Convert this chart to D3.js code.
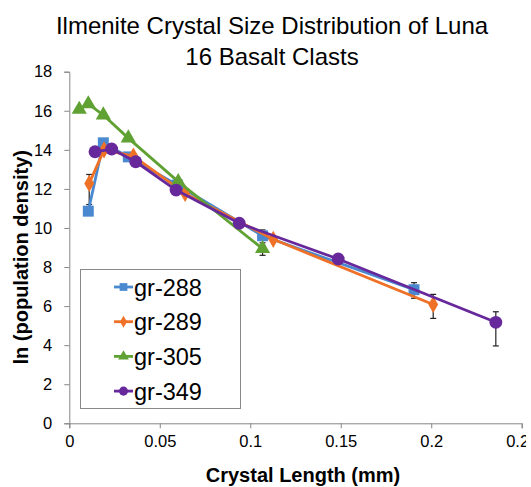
<!DOCTYPE html>
<html>
<head>
<meta charset="utf-8">
<script src="https://cdn.jsdelivr.net/npm/d3@7"></script>
<style>
  html, body { margin: 0; padding: 0; background: #fff; }
  svg { display: block; overflow: hidden; }
  text { font-family: "Liberation Sans", Arial, sans-serif; fill: #000; }
</style>
</head>
<body>
<svg id="chart" width="526" height="487"></svg>
<script>
// ---- data ----
const seriesNames = ["gr-288", "gr-289", "gr-305", "gr-349"];
const colors = ["#4A89D0", "#EE7127", "#5FA233", "#67289C"];
const symbols = ["square", "diamond", "triangle", "circle"];

const x288 = [0.0105, 0.0188, 0.0326, 0.0597, 0.1068, 0.1905];
const y288 = [10.86, 14.36, 13.64, 12.2, 9.6, 6.84];
const e288 = [null, null, null, null, [9.24, 9.9], [6.4, 7.2]];

const x289 = [0.011, 0.0192, 0.0354, 0.064, 0.1127, 0.2011];
const y289 = [12.28, 14.0, 13.68, 11.77, 9.42, 6.08];
const e289 = [[11.2, 12.74], null, null, null, null, [5.37, 6.6]];

const x305 = [0.0055, 0.0105, 0.0188, 0.0326, 0.0602, 0.1068];
const y305 = [16.07, 16.35, 15.78, 14.6, 12.37, 8.94];
const e305 = [null, null, null, null, null, [8.6, 9.1]];

const x349 = [0.0142, 0.0234, 0.0367, 0.059, 0.0939, 0.1486, 0.2357];
const y349 = [13.9, 14.04, 13.39, 11.94, 10.24, 8.41, 5.17];
const e349 = [null, null, null, null, null, null, [3.96, 5.71]];

const xTicks = [0, 0.05, 0.1, 0.15, 0.2, 0.25];
const yTicks = [0, 2, 4, 6, 8, 10, 12, 14, 16, 18];

const titleLines = ["Ilmenite Crystal Size Distribution of Luna", "16 Basalt Clasts"];
const xTitle = "Crystal Length (mm)";
const yTitle = "ln (population density)";

// ---- build ----
const series = [
  {xs: x288, ys: y288, es: e288},
  {xs: x289, ys: y289, es: e289},
  {xs: x305, ys: y305, es: e305},
  {xs: x349, ys: y349, es: e349}
].map((s, i) => ({
  name: seriesNames[i], color: colors[i], symbol: symbols[i],
  pts: s.xs.map((x, j) => ({x, y: s.ys[j], e: s.es[j]}))
}));

const svg = d3.select("#chart");
const x = d3.scaleLinear().domain([0, 0.25]).range([69.3, 521.7]);
const y = d3.scaleLinear().domain([0, 18]).range([423.3, 71.7]);

// title
svg.append("g").selectAll("text").data(titleLines).join("text")
  .attr("x", 272).attr("y", (d, i) => 34 + i * 30.5)
  .attr("text-anchor", "middle").style("font-size", "24px").text(d => d);

// axes
const axisColor = "#868686";
const xAxis = svg.append("g").attr("transform", `translate(0,${y(0)})`)
  .call(d3.axisBottom(x).tickValues(xTicks).tickFormat(d => d3.format("")(d)).tickSizeOuter(0).tickSize(5).tickPadding(7));
const yAxis = svg.append("g").attr("transform", `translate(${x(0)},0)`)
  .call(d3.axisLeft(y).tickValues(yTicks).tickSizeOuter(0).tickSize(5).tickPadding(12));
[xAxis, yAxis].forEach(g => {
  g.select(".domain").attr("stroke", axisColor);
  g.selectAll(".tick line").attr("stroke", axisColor);
  g.selectAll(".tick text").style("font-size", "16.5px")
    .style("font-family", '"Liberation Sans", Arial, sans-serif').attr("fill", "#000");
});

// axis titles
svg.append("text").attr("x", 303).attr("y", 482)
  .attr("text-anchor", "middle").style("font-size", "20px").style("font-weight", "bold").text(xTitle);
svg.append("text").attr("transform", `translate(28,${y(8.5)}) rotate(-90)`)
  .attr("text-anchor", "middle").style("font-size", "20px").style("font-weight", "bold").text(yTitle);

// error bars
const eg = svg.append("g");
series.forEach(s => {
  s.pts.filter(p => p.e).forEach(p => {
    const cx = x(p.x);
    eg.append("line").attr("x1", cx).attr("x2", cx).attr("y1", y(p.e[0])).attr("y2", y(p.e[1]))
      .attr("stroke", "#222").attr("stroke-width", 1.2);
    [p.e[0], p.e[1]].forEach(v => eg.append("line")
      .attr("x1", cx - 3).attr("x2", cx + 3).attr("y1", y(v)).attr("y2", y(v))
      .attr("stroke", "#222").attr("stroke-width", 1.2));
  });
});

// symbol generator
const symType = {square: d3.symbolSquare, diamond: d3.symbolDiamond, triangle: d3.symbolTriangle, circle: d3.symbolCircle};
const symSize = {square: 120, diamond: 85, triangle: 100, circle: 130};
const line = d3.line().x(d => x(d.x)).y(d => y(d.y));

series.forEach(s => {
  const g = svg.append("g");
  g.append("path").attr("d", line(s.pts)).attr("fill", "none")
    .attr("stroke", s.color).attr("stroke-width", 2.8).attr("stroke-linejoin", "round");
  g.selectAll("path.m").data(s.pts).join("path").attr("class", "m")
    .attr("transform", d => `translate(${x(d.x)},${y(d.y)})`)
    .attr("d", d3.symbol().type(symType[s.symbol]).size(symSize[s.symbol]))
    .attr("fill", s.color);
});

// legend
const lg = svg.append("g");
lg.append("rect").attr("x", 80.5).attr("y", 269.5).attr("width", 160).attr("height", 139)
  .attr("fill", "#fff").attr("stroke", "#888").attr("stroke-width", 1);
series.forEach((s, i) => {
  const cy = 287 + i * 34.7;
  lg.append("line").attr("x1", 114).attr("x2", 133).attr("y1", cy).attr("y2", cy)
    .attr("stroke", s.color).attr("stroke-width", 2.8);
  lg.append("path").attr("transform", `translate(123.5,${cy})`)
    .attr("d", d3.symbol().type(symType[s.symbol]).size(symSize[s.symbol] * 0.5)).attr("fill", s.color);
  lg.append("text").attr("x", 134).attr("y", cy + 8.5).style("font-size", "23.5px").text(s.name);
});
</script>
</body>
</html>
